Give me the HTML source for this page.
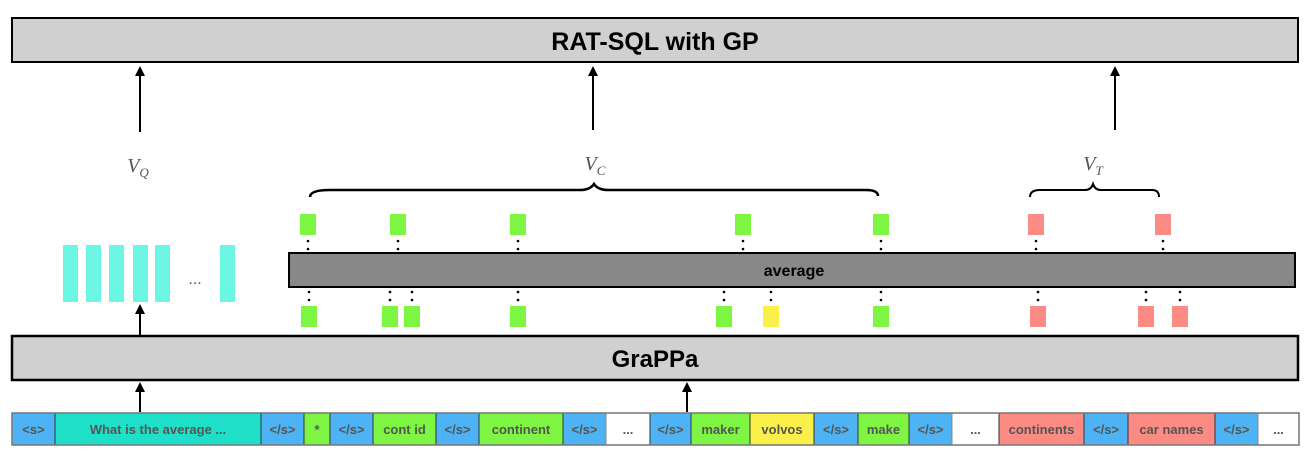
<!DOCTYPE html>
<html><head><meta charset="utf-8"><style>
body{margin:0;background:#fff;width:1313px;height:460px;overflow:hidden}
svg{display:block}
.t{font-family:"Liberation Sans",Arial,sans-serif;font-size:13px;fill:#555;text-anchor:middle;font-weight:bold}
.v{font-family:"Liberation Serif",serif;font-style:italic;font-size:20px;fill:#555;text-anchor:middle}
</style></head><body>
<svg width="1313" height="460" viewBox="0 0 1313 460">
<g>
<rect x="12" y="18" width="1286" height="44" fill="#d0d0d0" stroke="#000" stroke-width="2"/>
<text x="655" y="50" font-family="Liberation Sans,sans-serif" font-size="25" font-weight="bold" text-anchor="middle">RAT-SQL with GP</text></g>
<g stroke="#000" stroke-width="2">
<line x1="140" y1="132" x2="140" y2="74"/><line x1="593" y1="130" x2="593" y2="74"/><line x1="1115" y1="130" x2="1115" y2="74"/>
<line x1="140" y1="335" x2="140" y2="312"/><line x1="140" y1="412" x2="140" y2="390"/><line x1="687" y1="412" x2="687" y2="390"/>
</g>
<g fill="#000">
<path d="M135,76 L140,66 L145,76z"/><path d="M588,76 L593,66 L598,76z"/><path d="M1110,76 L1115,66 L1120,76z"/>
<path d="M135,314 L140,304 L145,314z"/><path d="M135,392 L140,382 L145,392z"/><path d="M682,392 L687,382 L692,392z"/>
</g>
<text class="v" x="138" y="172">V<tspan font-size="13" dy="5">Q</tspan></text>
<text class="v" x="595" y="170">V<tspan font-size="13" dy="5">C</tspan></text>
<text class="v" x="1093" y="170">V<tspan font-size="13" dy="5">T</tspan></text>
<path d="M310,197 Q310,190 330,190 L580,190 Q590,190 594,184 Q598,190 608,190 L866,190 Q878,190 878,196" fill="none" stroke="#000" stroke-width="2.5"/>
<path d="M1030,197 Q1030,190 1040,190 L1085,190 Q1091,190 1093,184 Q1095,190 1101,190 L1152,190 Q1159,190 1159,197" fill="none" stroke="#000" stroke-width="2"/>
<g fill="#6cf6e4">
<rect x="63" y="245" width="15" height="57"/><rect x="86" y="245" width="15" height="57"/><rect x="109" y="245" width="15" height="57"/><rect x="133" y="245" width="15" height="57"/><rect x="155" y="245" width="15" height="57"/><rect x="220" y="245" width="15" height="57"/>
<text x="195" y="284" font-family="Liberation Sans" font-size="16" fill="#555" text-anchor="middle">...</text></g>
<g>
<rect x="289" y="253" width="1006" height="34" fill="#888" stroke="#000" stroke-width="2"/>
<text x="794" y="276" font-family="Liberation Sans,sans-serif" font-size="16" font-weight="bold" text-anchor="middle">average</text></g>
<g id="sq"></g>
<g>
<rect x="12" y="336" width="1286" height="44" fill="#d0d0d0" stroke="#000" stroke-width="2.5"/>
<text x="655" y="367" font-family="Liberation Sans,sans-serif" font-size="24" font-weight="bold" text-anchor="middle">GraPPa</text></g>
<g id="tok"></g>
</svg>
<script>
const NS="http://www.w3.org/2000/svg";
const sq=document.getElementById('sq');
const G='#7ef542',R='#fb8b83',Y='#fbf04a';
const topSq=[[300,G],[390,G],[510,G],[735,G],[873,G],[1028,R],[1155,R]];
const botSq=[[301,G],[382,G],[404,G],[510,G],[716,G],[763,Y],[873,G],[1030,R],[1138,R],[1172,R]];
function mk(t,a){const e=document.createElementNS(NS,t);for(const k in a)e.setAttribute(k,a[k]);return e;}
topSq.forEach(([x,c])=>{const r=mk('rect',{x:x,y:214,width:16,height:21,fill:c});

sq.appendChild(r);
[241,249].forEach(y=>sq.appendChild(mk('circle',{cx:x+8,cy:y,r:1.3,fill:'#000'})));});
botSq.forEach(([x,c])=>{const r=mk('rect',{x:x,y:306,width:16,height:21,fill:c});

sq.appendChild(r);
[292,300].forEach(y=>sq.appendChild(mk('circle',{cx:x+8,cy:y,r:1.3,fill:'#000'})));});
const B='#4db3f5',C='#1ee0c8',W='#fff';
const toks=[['<s>',12,55,B],['What  is the average ...',55,261,C],['</s>',261,304,B],['*',304,330,G],['</s>',330,373,B],['cont id',373,436,G],['</s>',436,479,B],['continent',479,563,G],['</s>',563,606,B],['...',606,650,W],['</s>',650,691,B],['maker',691,750,G],['volvos',750,814,Y],['</s>',814,858,B],['make',858,909,G],['</s>',909,952,B],['...',952,999,W],['continents',999,1084,R],['</s>',1084,1128,B],['car names',1128,1215,R],['</s>',1215,1258,B],['...',1258,1299,W]];
const tk=document.getElementById('tok');
toks.forEach(([s,a,b,c])=>{const g=mk('g',{});


g.appendChild(mk('rect',{x:a,y:413,width:b-a,height:32,fill:c,stroke:c==W?'#888':'#333','stroke-width':1}));
const t=mk('text',{x:(a+b)/2,y:434,class:'t'});t.textContent=s;g.appendChild(t);tk.appendChild(g);});
tk.appendChild(mk('rect',{x:12,y:413,width:1287,height:32,fill:'none',stroke:'#777','stroke-width':1.5}));
</script>
</body></html>
